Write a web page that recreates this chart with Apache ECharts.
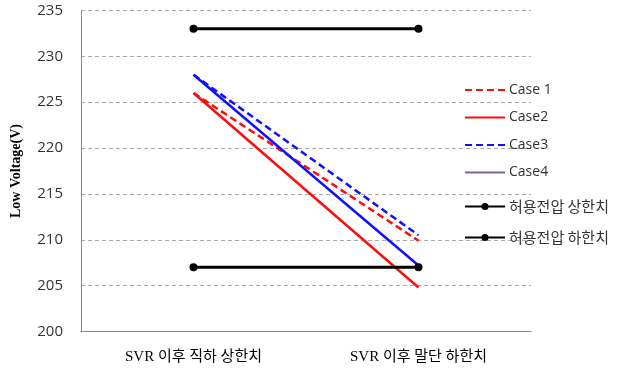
<!DOCTYPE html>
<html><head><meta charset="utf-8">
<script src="https://cdn.jsdelivr.net/npm/echarts@6/dist/echarts.min.js"></script>
<style>html,body{margin:0;padding:0;background:#fff}#c{width:634px;height:377px}</style>
</head><body><div id="c"></div>
<script>
const categories = ['SVR 이후 직하 상한치', 'SVR 이후 말단 하한치'];
const case1 = [226, 209.9];
const case2 = [226, 204.8];
const case3 = [228, 210.5];
const case4 = [228, 207.2];
const upperLimit = [233, 233];
const lowerLimit = [207, 207];
const yTicks = [200, 205, 210, 215, 220, 225, 230, 235];

const chart = echarts.init(document.getElementById('c'));
const lineSeries = (name, data, color, type, width, sym) => ({
  name, type: 'line', data,
  symbol: sym ? 'circle' : 'none', symbolSize: 8, showSymbol: !!sym,
  itemStyle: { color },
  lineStyle: { color, width, type },
  z: sym ? 3 : 2, silent: true, animation: false
});
const noDot = { opacity: 0 };
chart.setOption({
  animation: false,
  grid: { left: 81, right: 103, top: 10.5, bottom: 45.5 },
  legend: [{
    orient: 'vertical', left: 459, top: 78, itemWidth: 40, itemHeight: 14, itemGap: 13.5,
    textStyle: { fontSize: 14, color: '#333', fontFamily: 'Open Sans, Noto Sans CJK KR', padding: [0,0,0,-1] },
    data: [
      { name: 'Case 1', itemStyle: noDot }, { name: 'Case2', itemStyle: noDot }, { name: 'Case3', itemStyle: noDot },
      { name: 'Case4', itemStyle: { color: '#7f63a0', opacity: 0 }, lineStyle: { color: '#7f63a0' } }
    ]
  }, {
    orient: 'vertical', left: 459, top: 194, itemWidth: 40, itemHeight: 9, itemGap: 16,
    textStyle: { fontSize: 15, color: '#333', fontFamily: 'Noto Sans CJK KR', padding: [0,0,0,-1] },
    data: ['허용전압 상한치', '허용전압 하한치']
  }],
  xAxis: {
    type: 'category', data: categories, boundaryGap: true,
    axisLine: { lineStyle: { color: '#888', width: 1 } },
    axisTick: { show: false },
    axisLabel: { fontSize: 15, color: '#000', margin: 18, fontFamily: 'Liberation Serif, Noto Sans CJK KR' }
  },
  yAxis: {
    type: 'value', min: 200, max: 235, interval: 5,
    name: 'Low Voltage(V)', nameLocation: 'middle', nameGap: 58,
    nameTextStyle: { fontSize: 14, fontWeight: 'bold', fontFamily: 'Liberation Serif', color: '#000' },
    axisLine: { show: true, lineStyle: { color: '#888', width: 1 } },
    axisTick: { show: false },
    axisLabel: { fontSize: 15, color: '#333', margin: 18, fontFamily: 'Open Sans',
      formatter: v => yTicks.includes(v) ? String(v) : '' },
    splitLine: { lineStyle: { color: '#aaa', type: [4, 3], width: 1 } }
  },
  series: [
    lineSeries('Case 1', case1, '#ff0d0d', [7, 4], 2.5, false),
    lineSeries('Case2', case2, '#ff0d0d', 'solid', 2.5, false),
    lineSeries('Case3', case3, '#1010ff', [7, 4], 2.5, false),
    lineSeries('Case4', case4, '#1010ff', 'solid', 2.5, false),
    lineSeries('허용전압 상한치', upperLimit, '#000', 'solid', 3, true),
    lineSeries('허용전압 하한치', lowerLimit, '#000', 'solid', 3, true)
  ]
});
</script></body></html>
